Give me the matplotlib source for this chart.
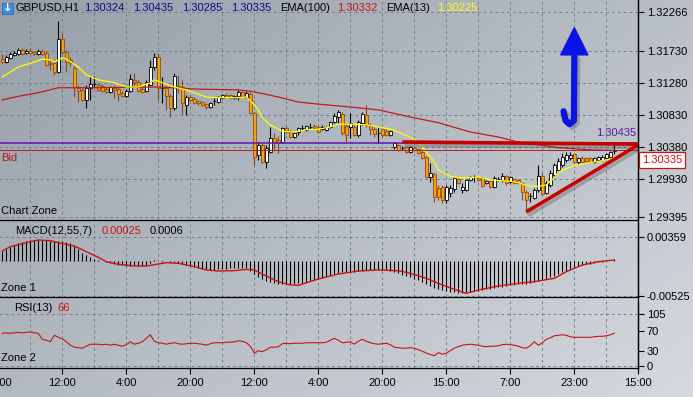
import numpy as np
import matplotlib.pyplot as plt
import matplotlib.patheffects as pe
from matplotlib.patches import Rectangle, Polygon
from matplotlib.lines import Line2D

plt.rcParams['font.family'] = ['Liberation Sans', 'DejaVu Sans']
plt.rcParams['font.size'] = 8

# GBPUSD H1 candles (oldest first)
opens = [1.3161, 1.3157, 1.3163, 1.3167, 1.3168, 1.3174, 1.3170, 1.3172, 1.3171, 1.3168,
         1.3172, 1.3170, 1.3156, 1.3156, 1.3143, 1.3189, 1.3171, 1.3160, 1.3149, 1.3121,
         1.3118, 1.3104, 1.3121, 1.3126, 1.3125, 1.3123, 1.3119, 1.3115, 1.3121, 1.3119,
         1.3114, 1.3109, 1.3116, 1.3132, 1.3129, 1.3119, 1.3116, 1.3125, 1.3150, 1.3164,
         1.3121, 1.3121, 1.3109, 1.3093, 1.3123, 1.3122, 1.3097, 1.3108, 1.3105, 1.3102,
         1.3101, 1.3098, 1.3094, 1.3102, 1.3101, 1.3107, 1.3111, 1.3111, 1.3107, 1.3109,
         1.3115, 1.3108, 1.3112, 1.3086, 1.3027, 1.3041, 1.3017, 1.3031, 1.3051, 1.3048,
         1.3045, 1.3065, 1.3059, 1.3052, 1.3059, 1.3065, 1.3062, 1.3066, 1.3067, 1.3066,
         1.3063, 1.3062, 1.3066, 1.3073, 1.3080, 1.3084, 1.3067, 1.3066, 1.3066, 1.3055,
         1.3072, 1.3083, 1.3067, 1.3063, 1.3058, 1.3063, 1.3060, 1.3055, 1.3038, 1.3041,
         1.3037, 1.3038, 1.3031, 1.3037, 1.3035, 1.3031, 1.3024, 1.2996, 1.3000, 1.2981,
         1.2982, 1.2964, 1.2974, 1.2979, 1.2993, 1.2978, 1.2978, 1.2992, 1.2996, 1.2995,
         1.2995, 1.2988, 1.2990, 1.2982, 1.2993, 1.2992, 1.2997, 1.2989, 1.2993, 1.2992,
         1.2988, 1.2975, 1.2969, 1.2967, 1.2978, 1.2997, 1.2974, 1.2985, 1.2999, 1.3006,
         1.3013, 1.3020, 1.3023, 1.3028, 1.3017, 1.3023, 1.3023, 1.3023, 1.3017, 1.3020,
         1.3020, 1.3023, 1.3024, 1.30324]
highs = [1.3168, 1.3167, 1.3171, 1.3172, 1.3177, 1.3177, 1.3175, 1.3177, 1.3172, 1.3175,
         1.3175, 1.3172, 1.3160, 1.3160, 1.3214, 1.3198, 1.3174, 1.3164, 1.3151, 1.3125,
         1.3121, 1.3125, 1.3137, 1.3137, 1.3128, 1.3126, 1.3122, 1.3123, 1.3125, 1.3122,
         1.3116, 1.3119, 1.3140, 1.3142, 1.3132, 1.3122, 1.3132, 1.3160, 1.3170, 1.3170,
         1.3136, 1.3123, 1.3112, 1.3142, 1.3139, 1.3132, 1.3111, 1.3111, 1.3108, 1.3104,
         1.3102, 1.3100, 1.3101, 1.3107, 1.3109, 1.3112, 1.3114, 1.3112, 1.3111, 1.3118,
         1.3118, 1.3116, 1.3115, 1.3087, 1.3045, 1.3044, 1.3041, 1.3066, 1.3058, 1.3053,
         1.3066, 1.3067, 1.3062, 1.3059, 1.3066, 1.3069, 1.3069, 1.3072, 1.3070, 1.3067,
         1.3069, 1.3067, 1.3074, 1.3086, 1.3090, 1.3087, 1.3072, 1.3086, 1.3069, 1.3076,
         1.3087, 1.3097, 1.3072, 1.3066, 1.3066, 1.3065, 1.3063, 1.3062, 1.3045, 1.3042,
         1.3039, 1.3039, 1.3039, 1.3038, 1.3037, 1.3032, 1.3025, 1.3016, 1.3003, 1.2985,
         1.2985, 1.2985, 1.2985, 1.2996, 1.2996, 1.2988, 1.2993, 1.2997, 1.2999, 1.2996,
         1.2996, 1.2992, 1.2992, 1.2997, 1.2996, 1.3002, 1.2999, 1.2997, 1.2995, 1.2993,
         1.2989, 1.2978, 1.2974, 1.2981, 1.3013, 1.3002, 1.2990, 1.3006, 1.3016, 1.3023,
         1.3030, 1.3031, 1.3031, 1.3030, 1.3024, 1.3025, 1.3024, 1.3024, 1.3024, 1.3025,
         1.3027, 1.3030, 1.3032, 1.30435]
lows = [1.3156, 1.3156, 1.3161, 1.3165, 1.3167, 1.3167, 1.3168, 1.3168, 1.3167, 1.3167,
        1.3167, 1.3151, 1.3146, 1.3139, 1.3142, 1.3168, 1.3143, 1.3151, 1.3108, 1.3101,
        1.3102, 1.3093, 1.3104, 1.3122, 1.3116, 1.3115, 1.3114, 1.3114, 1.3107, 1.3102,
        1.3108, 1.3108, 1.3115, 1.3125, 1.3115, 1.3114, 1.3115, 1.3125, 1.3146, 1.3104,
        1.3100, 1.3090, 1.3080, 1.3090, 1.3114, 1.3083, 1.3083, 1.3102, 1.3098, 1.3097,
        1.3095, 1.3091, 1.3093, 1.3097, 1.3100, 1.3105, 1.3107, 1.3105, 1.3105, 1.3104,
        1.3108, 1.3107, 1.3084, 1.3013, 1.3020, 1.3016, 1.3009, 1.3030, 1.3034, 1.3030,
        1.3044, 1.3058, 1.3051, 1.3051, 1.3055, 1.3062, 1.3060, 1.3063, 1.3063, 1.3058,
        1.3062, 1.3060, 1.3065, 1.3072, 1.3072, 1.3055, 1.3045, 1.3051, 1.3053, 1.3052,
        1.3069, 1.3066, 1.3055, 1.3052, 1.3044, 1.3052, 1.3053, 1.3053, 1.3035, 1.3032,
        1.3034, 1.3030, 1.3030, 1.3032, 1.3028, 1.3021, 1.2995, 1.2989, 1.2961, 1.2964,
        1.2960, 1.2960, 1.2968, 1.2975, 1.2986, 1.2974, 1.2976, 1.2990, 1.2989, 1.2990,
        1.2982, 1.2986, 1.2981, 1.2981, 1.2990, 1.2989, 1.2985, 1.2988, 1.2986, 1.2986,
        1.2964, 1.2947, 1.2961, 1.2965, 1.2975, 1.2971, 1.2972, 1.2982, 1.2995, 1.3003,
        1.3010, 1.3017, 1.3020, 1.3016, 1.3014, 1.3016, 1.3016, 1.3016, 1.3016, 1.3018,
        1.3018, 1.3021, 1.3023, 1.30285]
closes = [1.3157, 1.3164, 1.3168, 1.3170, 1.3174, 1.3168, 1.3172, 1.3170, 1.3168, 1.3172,
          1.3168, 1.3153, 1.3154, 1.3143, 1.3189, 1.3171, 1.3157, 1.3156, 1.3122, 1.3116,
          1.3104, 1.3121, 1.3126, 1.3126, 1.3118, 1.3116, 1.3115, 1.3122, 1.3118, 1.3112,
          1.3109, 1.3116, 1.3133, 1.3129, 1.3116, 1.3115, 1.3129, 1.3150, 1.3164, 1.3121,
          1.3121, 1.3109, 1.3093, 1.3137, 1.3122, 1.3100, 1.3108, 1.3104, 1.3100, 1.3100,
          1.3097, 1.3094, 1.3100, 1.3102, 1.3108, 1.3111, 1.3108, 1.3107, 1.3109, 1.3115,
          1.3109, 1.3114, 1.3086, 1.3024, 1.3041, 1.3017, 1.3037, 1.3051, 1.3045, 1.3044,
          1.3065, 1.3059, 1.3052, 1.3058, 1.3065, 1.3065, 1.3067, 1.3066, 1.3065, 1.3059,
          1.3066, 1.3066, 1.3073, 1.3081, 1.3087, 1.3058, 1.3055, 1.3072, 1.3055, 1.3073,
          1.3084, 1.3069, 1.3063, 1.3056, 1.3058, 1.3055, 1.3055, 1.3060, 1.3044, 1.3034,
          1.3037, 1.3031, 1.3038, 1.3034, 1.3030, 1.3023, 1.2996, 1.3002, 1.2968, 1.2968,
          1.2964, 1.2982, 1.2981, 1.2995, 1.2988, 1.2982, 1.2992, 1.2996, 1.2996, 1.2992,
          1.2983, 1.2990, 1.2982, 1.2995, 1.2993, 1.2997, 1.2988, 1.2996, 1.2988, 1.2988,
          1.2975, 1.2964, 1.2969, 1.2978, 1.2997, 1.2972, 1.2988, 1.3002, 1.3013, 1.3018,
          1.3024, 1.3027, 1.3027, 1.3017, 1.3023, 1.3017, 1.3018, 1.3017, 1.3023, 1.3024,
          1.3024, 1.3028, 1.3031, 1.30335]

# moving averages (bar index, value)
ema13_bar = [0, 2, 4, 8, 10, 12, 13, 15, 16, 19, 21, 24, 28, 31, 34, 37, 38, 40, 43, 46,
             51, 54, 58, 61, 63, 64, 65, 67, 69, 70, 73, 76, 79, 82, 84, 88, 91, 94, 97, 99,
             103, 105, 108, 109, 112, 114, 117, 119, 122, 127, 129, 132, 134, 136, 138, 139,
             142, 144, 147, 149, 152, 153]
ema13_val = [1.3136, 1.3143, 1.3150, 1.3157, 1.3161, 1.3160, 1.3157, 1.3163, 1.3161, 1.3150,
             1.3139, 1.3132, 1.3128, 1.3122, 1.3122, 1.3128, 1.3132, 1.3128, 1.3122, 1.3118,
             1.3108, 1.3107, 1.3107, 1.3108, 1.3097, 1.3090, 1.3079, 1.3069, 1.3063, 1.3060,
             1.3059, 1.3062, 1.3063, 1.3066, 1.3070, 1.3070, 1.3069, 1.3066, 1.3063, 1.3059,
             1.3049, 1.3038, 1.3017, 1.3006, 1.2997, 1.2995, 1.2995, 1.2996, 1.2992, 1.2990,
             1.2988, 1.2983, 1.2983, 1.2985, 1.2995, 1.3003, 1.3010, 1.3013, 1.3016, 1.3018,
             1.3021, 1.30225]
ema100_bar = [0, 4, 9, 14, 24, 39, 49, 59, 62, 64, 69, 74, 79, 87, 94, 102, 109, 117, 124,
              129, 134, 139, 147, 153]
ema100_val = [1.3104, 1.3109, 1.3114, 1.3121, 1.3121, 1.3122, 1.3119, 1.3118, 1.3116, 1.3114,
              1.3108, 1.3101, 1.3098, 1.3094, 1.3090, 1.3080, 1.3072, 1.3059, 1.3052, 1.3045,
              1.3041, 1.3037, 1.3034, 1.30332]

# MACD(12,55,7) histogram per bar and signal line
macd = [0.00155, 0.00185, 0.00215, 0.0024, 0.00265, 0.0028, 0.00295, 0.0031, 0.00315, 0.0032,
        0.0032, 0.0031, 0.00305, 0.00295, 0.003, 0.00295, 0.00285, 0.00265, 0.00225, 0.00175,
        0.00125, 0.00085, 0.00055, 0.00035, 0.00015, 0.0, -0.00015, -0.0003, -0.0004, -0.00055,
        -0.00065, -0.00075, -0.0007, -0.00065, -0.0007, -0.0007, -0.00055, -0.00025, 0.00015, 0.0,
        -0.0001, 0.0, -0.00015, -0.00015, -0.00025, -0.0005, -0.00065, -0.0008, -0.00095, -0.00105,
        -0.00115, -0.00125, -0.0013, -0.0013, -0.00125, -0.0012, -0.00115, -0.0011, -0.0011, -0.00105,
        -0.001, -0.001, -0.00145, -0.00195, -0.00235, -0.0027, -0.00295, -0.00315, -0.0033, -0.0034,
        -0.00345, -0.00345, -0.00345, -0.0034, -0.00335, -0.0033, -0.0032, -0.00305, -0.0029, -0.0027,
        -0.0025, -0.0023, -0.00215, -0.002, -0.00185, -0.0017, -0.00165, -0.0016, -0.0016, -0.00155,
        -0.00145, -0.0014, -0.0014, -0.0014, -0.0014, -0.0014, -0.0014, -0.00145, -0.00165, -0.00185,
        -0.00205, -0.00225, -0.00245, -0.00265, -0.00285, -0.0031, -0.00345, -0.00375, -0.004, -0.0042,
        -0.0044, -0.00455, -0.00465, -0.0047, -0.00475, -0.00475, -0.0047, -0.00465, -0.00455, -0.00445,
        -0.00435, -0.00425, -0.00415, -0.00405, -0.00395, -0.00385, -0.00375, -0.00365, -0.00355, -0.0035,
        -0.00345, -0.00345, -0.00335, -0.0032, -0.003, -0.00285, -0.00265, -0.00245, -0.0022, -0.00195,
        -0.0017, -0.00145, -0.0012, -0.00095, -0.00075, -0.0006, -0.0005, -0.0004, -0.0003, -0.0002,
        -0.0001, -0.00005, 0.00005, 0.00025]
signal_bar = [0, 2, 7, 9, 12, 14, 18, 21, 24, 26, 29, 33, 36, 39, 41, 44, 48, 51, 54, 58, 61, 63,
              66, 69, 72, 74, 79, 84, 89, 94, 99, 102, 106, 110, 114, 116, 119, 124, 129, 133,
              138, 141, 145, 149, 153]
signal_val = [0.0015, 0.00215, 0.0029, 0.00315, 0.00305, 0.00275, 0.00225, 0.0014, 0.00055, -0.0001,
              -0.0005, -0.00075, -0.00075, -0.00045, -0.00025, -0.00035, -0.00085, -0.00135, -0.0015,
              -0.00145, -0.00125, -0.00135, -0.00225, -0.0031, -0.0036, -0.00365, -0.0027, -0.00195,
              -0.0015, -0.00135, -0.00145, -0.00185, -0.0026, -0.0036, -0.00445, -0.00485, -0.00435,
              -0.00375, -0.00335, -0.0031, -0.0026, -0.0016, -0.0006, -0.0001, 0.00015]

# RSI(13) per bar
rsi = [66, 67, 66, 67, 68, 67, 68, 69, 67, 66,
       54, 52, 49, 62, 58, 55, 49, 42, 38, 37,
       36, 40, 44, 44, 44, 43, 44, 42, 44, 42,
       40, 43, 49, 44, 46, 49, 56, 63, 50, 47,
       46, 44, 46, 47, 45, 44, 45, 46, 46, 45,
       44, 42, 45, 47, 47, 47, 48, 48, 49, 51,
       50, 47, 40, 26, 31, 29, 33, 38, 38, 39,
       45, 46, 45, 46, 46, 46, 47, 47, 47, 47,
       47, 48, 52, 56, 52, 47, 48, 49, 44, 50,
       54, 50, 47, 45, 44, 45, 46, 43, 38, 37,
       36, 36, 37, 36, 33, 30, 26, 23, 21, 27,
       24, 26, 31, 36, 39, 42, 43, 44, 43, 42,
       40, 39, 40, 40, 41, 43, 44, 43, 42, 40,
       37, 36, 41, 49, 42, 47, 54, 57, 61, 62,
       63, 62, 59, 58, 58, 58, 58, 58, 59, 60,
       60, 61, 63, 66]

# drawn objects
ask_level = 1.30435
bid_level = 1.30335
resist_x, resist_y = [100, 159], [1.3045, 1.3042]
support_x, support_y = [131, 159], [1.2947, 1.3041]
green_x, green_y = [131, 137], [1.2950, 1.2966]
arrow_x = [140.3, 140.8, 141.8, 142.9, 143.0]
arrow_y = [1.3088, 1.3075, 1.3070, 1.3075, 1.3165]
head_x = [139.6, 146.4, 143.0]
head_y = [1.3167, 1.3167, 1.3205]

price_ticks = [1.32266, 1.31730, 1.31280, 1.30830, 1.30380, 1.29930, 1.29395]
macd_ticks = [0.00359, -0.00525]
rsi_ticks = [105, 70, 30, 0]
time_pos = [-1, 15, 31, 47, 63, 79, 95, 111, 127, 143, 159]
time_labels = ['20:00', '12:00', '4:00', '20:00', '12:00', '4:00', '20:00', '15:00', '7:00', '23:00', '15:00']

W, H = 693, 397
fig = plt.figure(figsize=(W / 100, H / 100), dpi=100)

# background gradient
bg = fig.add_axes([0, 0, 1, 1], zorder=-10)
gx, gy = np.meshgrid(np.linspace(0, 1, 300), np.linspace(0, 1, 200))
t = 0.55 * gx + 0.45 * gy
c0 = np.array([150, 158, 168]) / 255
c1 = np.array([214, 218, 223]) / 255
bg.imshow(c0 + (c1 - c0) * t[..., None], extent=[0, 1, 0, 1], aspect='auto')
bg.axis('off')

LEFT, RIGHT = -2.87, 638.33
XLIM = (-1.3, 159.0)
grid_kw = dict(color='#76818d', lw=0.7, ls=(0, (3, 3)), zorder=0)


def panel(top, bottom):
    a = fig.add_axes([LEFT / W, 1 - bottom / H, (RIGHT - LEFT) / W, (bottom - top) / H])
    a.set_facecolor('none')
    a.set_xlim(*XLIM)
    for s in ('left', 'top'):
        a.spines[s].set_visible(False)
    for s in ('right', 'bottom', 'top'):
        a.spines[s].set_linewidth(0.9)
        a.spines[s].set_color('black')
    a.yaxis.tick_right()
    a.tick_params(axis='y', length=4, width=0.8, pad=2, labelsize=8, colors='black')
    a.set_xticks([])
    for g in range(-1, 160, 8):
        a.axvline(g, **grid_kw)
    return a


def ftxt(x, y, s, **kw):
    kw.setdefault('va', 'center')
    return fig.text(x / W, 1 - y / H, s, **kw)


# ---- main price chart ----
ax = panel(0, 220)
ax.set_ylim(1.29358, 1.32438)
ax.set_yticks(price_ticks)
ax.set_yticklabels([f'{p:.5f}' for p in price_ticks])
for p in price_ticks:
    ax.axhline(p, **grid_kw)

x = np.arange(len(closes))
o, hi, lo, c = map(np.array, (opens, highs, lows, closes))
up = c >= o
ax.vlines(x[up], lo[up], hi[up], color='black', lw=0.8, zorder=2)
ax.vlines(x[~up], lo[~up], hi[~up], color='#8c4a0c', lw=0.8, zorder=2)
ax.bar(x[up], c[up] - o[up], bottom=o[up], width=0.75, color='white',
       edgecolor='black', lw=0.6, zorder=3)
ax.bar(x[~up], o[~up] - c[~up], bottom=c[~up], width=0.75, color='#f2a20c',
       edgecolor='#9a4a0a', lw=0.6, zorder=3)

ax.plot(ema100_bar, ema100_val, color='#c41a1a', lw=0.9, zorder=4)
ax.plot(ema13_bar, ema13_val, color='#ffff00', lw=0.9, zorder=4)

ax.axhline(ask_level, color='#6a10b0', lw=1.1, zorder=4)
ax.axhline(bid_level, color='#b02020', lw=0.7, zorder=4)

shadow = [pe.SimpleLineShadow(offset=(1.5, -2.5), shadow_color='#444444', alpha=0.3), pe.Normal()]
ax.plot(green_x, green_y, color='#2e8b2e', lw=1.0, zorder=5)
ax.plot(resist_x, resist_y, color='#c80000', lw=2.6, solid_capstyle='butt', zorder=6, path_effects=shadow)
ax.plot(support_x, support_y, color='#c80000', lw=2.6, solid_capstyle='butt', zorder=6, path_effects=shadow)

ax.plot(arrow_x, arrow_y, color='#0a14e6', lw=4.5, solid_capstyle='round', zorder=6,
        path_effects=[pe.SimpleLineShadow(offset=(2, -2), shadow_color='#444444', alpha=0.3), pe.Normal()])
ax.add_patch(Polygon(list(zip(head_x, head_y)), closed=True, color='#0a14e6', zorder=6))

# ---- MACD ----
am = panel(223, 297)
am.set_ylim(-0.0054, 0.0057)
am.set_yticks(macd_ticks)
am.set_yticklabels([f'{v:.5f}' for v in macd_ticks])
for v in macd_ticks:
    am.axhline(v, **grid_kw)
am.vlines(x, 0, macd, color='black', lw=0.8, zorder=2)
am.plot(signal_bar, signal_val, color='#d01010', lw=1.0, zorder=3)

# ---- RSI ----
ar = panel(301, 368)
ar.set_ylim(-4, 131.3)
ar.set_yticks(rsi_ticks)
ar.set_yticklabels([str(v) for v in rsi_ticks])
for v in (105, 0):
    ar.axhline(v, **grid_kw)
ar.plot(x, rsi, color='#c81414', lw=0.8, zorder=3)
ar.set_xticks(time_pos)
ar.set_xticklabels(time_labels)
ar.tick_params(axis='x', length=4, width=0.8, pad=3, labelsize=8, colors='black')
ar.set_xlim(*XLIM)

# continuous right scale line
fig.add_artist(Line2D([RIGHT / W, RIGHT / W], [1 - 370 / H, 1], color='black', lw=0.9))

# ---- texts ----
fig.add_artist(Rectangle((2 / W, 1 - 14 / H), 11 / W, 11 / H, facecolor='#3f8fdc',
                         edgecolor='#2a6cb0', lw=0.6, transform=fig.transFigure))
ftxt(7.5, 8, '↓', color='white', ha='center', fontsize=8, fontweight='bold', family='DejaVu Sans')
ftxt(16, 8, 'GBPUSD,H1')
navy = '#0a0a8c'
ftxt(84, 8, f'{opens[-1]:.5f}', color=navy)
ftxt(133, 8, f'{highs[-1]:.5f}', color=navy)
ftxt(182, 8, f'{lows[-1]:.5f}', color=navy)
ftxt(231, 8, f'{closes[-1]:.5f}', color=navy)
ftxt(280, 8, 'EMA(100)')
ftxt(337, 8, f'{ema100_val[-1]:.5f}', color='#d01010')
ftxt(386, 8, 'EMA(13)')
ftxt(437, 8, f'{ema13_val[-1]:.5f}', color='#ffff00')

ftxt(1, 211, 'Chart Zone')
ftxt(1, 158, 'Bid', color='#b01818')
ftxt(636, 133, f'{ask_level:.5f}', color='#5a1a9a', ha='right')
ftxt(642, 160, f'{bid_level:.5f}', color='#d01010',
     bbox=dict(boxstyle='square,pad=0.25', facecolor='white', edgecolor='#d01010', lw=0.9))

ftxt(15, 231, 'MACD(12,55,7)')
ftxt(102, 231, f'{macd[-1]:.5f}', color='#d01010')
ftxt(150, 231, '0.0006')
ftxt(1, 288, 'Zone 1')

ftxt(14, 308, 'RSI(13)')
ftxt(57, 308, str(rsi[-1]), color='#d01010')
ftxt(1, 358, 'Zone 2')

fig.savefig('out.png', dpi=100)
